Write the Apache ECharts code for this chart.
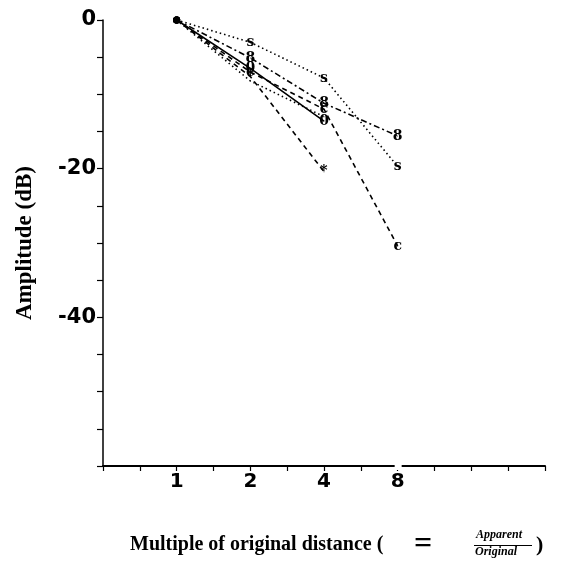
<!DOCTYPE html>
<html><head><meta charset="utf-8">
<script src="https://cdn.jsdelivr.net/npm/echarts@6/dist/echarts.min.js"></script>
<style>html,body{margin:0;padding:0;background:#fff}#c{width:571px;height:565px}</style>
</head><body><div id="c"></div>
<script>
// x categories (multiple of original distance)
const distances = [1, 2, 4, 8];
// amplitude in dB for each condition
const seriesS = [0, -3.0, -7.8, -19.7];   // dotted, "s"
const seriesE = [0, -5.1, -11.2, -15.6];  // dash-dot, "8"
const seriesC = [0, -7.0, -12.0, -30.4];  // dashed, "c"
const seriesO = [0, -6.5, -13.6];         // solid, "0"
const seriesX = [0, -7.6, -20.4];         // dashed, "*"
const seriesD = [0, -8.2, -13.0];         // dotted
// tick labels
const yTickLabels = [0, -20, -40];
const xTickLabels = [1, 2, 4, 8];

const BLACK = '#000';
function pairs(vals, mark) {
  return vals.map((v, i) => ({
    value: [distances[i], v],
    symbol: 'circle',
    symbolSize: i === 0 ? 7 : 1,
    label: { show: i > 0 && !!mark, formatter: mark }
  }));
}
function mkSeries(vals, mark, type) {
  return {
    type: 'line', xAxisIndex: 0, yAxisIndex: 0,
    data: pairs(vals, mark),
    showSymbol: true,
    itemStyle: { color: BLACK },
    lineStyle: { color: BLACK, width: 1.6, type: type },
    label: { position: 'inside', color: BLACK, fontWeight: 'bold', fontSize: 14, fontFamily: 'DejaVu Serif' },
    labelLayout: { hideOverlap: false },
    animation: false, silent: true
  };
}

const chart = echarts.init(document.getElementById('c'));
chart.setOption({
  backgroundColor: '#fff',
  animation: false,
  grid: { left: 103, right: 26, top: 20, bottom: 99 },
  xAxis: [
    { type: 'log', logBase: 2, min: 0.5, max: 32, show: false },
    { type: 'value', min: -1, max: 5, interval: 0.5, position: 'bottom',
      axisLine: { show: true, onZero: false, lineStyle: { color: BLACK, width: 2 } },
      axisTick: { show: true, inside: false, length: 5, lineStyle: { color: BLACK, width: 1.2 } },
      splitLine: { show: false },
      axisLabel: { margin: 6, color: BLACK, fontSize: 20, fontWeight: 'bold', fontFamily: 'DejaVu Sans',
        formatter: v => { const d = Math.pow(2, v); return xTickLabels.indexOf(d) >= 0 ? String(d) : ''; } } }
  ],
  yAxis: {
    type: 'value', min: -60, max: 0, interval: 5,
    axisLine: { show: true, onZero: false, lineStyle: { color: BLACK, width: 1.5 } },
    axisTick: { show: true, length: 6, lineStyle: { color: BLACK, width: 1.2 } },
    splitLine: { show: false },
    axisLabel: { margin: 7, color: BLACK, fontSize: 21, fontWeight: 'bold', fontFamily: 'DejaVu Sans',
      formatter: v => yTickLabels.indexOf(v) >= 0 ? String(v) : '' },
    name: 'Amplitude (dB)', nameLocation: 'middle', nameGap: 66, nameRotate: 90,
    nameTextStyle: { color: BLACK, fontSize: 23, fontWeight: 'bold', fontFamily: 'Liberation Serif' }
  },
  series: [
    mkSeries(seriesS, 's', [1.5, 3]),
    mkSeries(seriesE, '8', [6, 3, 2, 3]),
    mkSeries(seriesC, 'c', [5, 4]),
    mkSeries(seriesO, '0', 'solid'),
    mkSeries(seriesX, '*', [5, 4]),
    mkSeries(seriesD, '', [1.5, 3])
  ]
});

const gx = chart.convertToPixel({ xAxisIndex: 0 }, 8);
chart.setOption({
  graphic: [
    { type: 'rect', z: 100, shape: { x: gx - 3, y: 460, width: 7, height: 10 }, style: { fill: '#fff' } },
    { type: 'text', z: 100, left: 130, top: 535, style: { text: 'Multiple of original distance (', fill: BLACK, font: 'bold 20px "Liberation Serif"' } },
    { type: 'text', z: 100, left: 414, top: 529, style: { text: '=', fill: BLACK, font: 'bold 32px "Liberation Serif"' } },
    { type: 'text', z: 100, left: 476, top: 529, style: { text: 'Apparent', fill: BLACK, font: 'italic bold 12px "Liberation Serif"' } },
    { type: 'rect', z: 100, shape: { x: 474, y: 545, width: 58, height: 1 }, style: { fill: BLACK } },
    { type: 'text', z: 100, left: 475, top: 546, style: { text: 'Original', fill: BLACK, font: 'italic bold 12px "Liberation Serif"' } },
    { type: 'text', z: 100, left: 536, top: 534, style: { text: ')', fill: BLACK, font: 'bold 22px "Liberation Serif"' } }
  ]
});
</script></body></html>
